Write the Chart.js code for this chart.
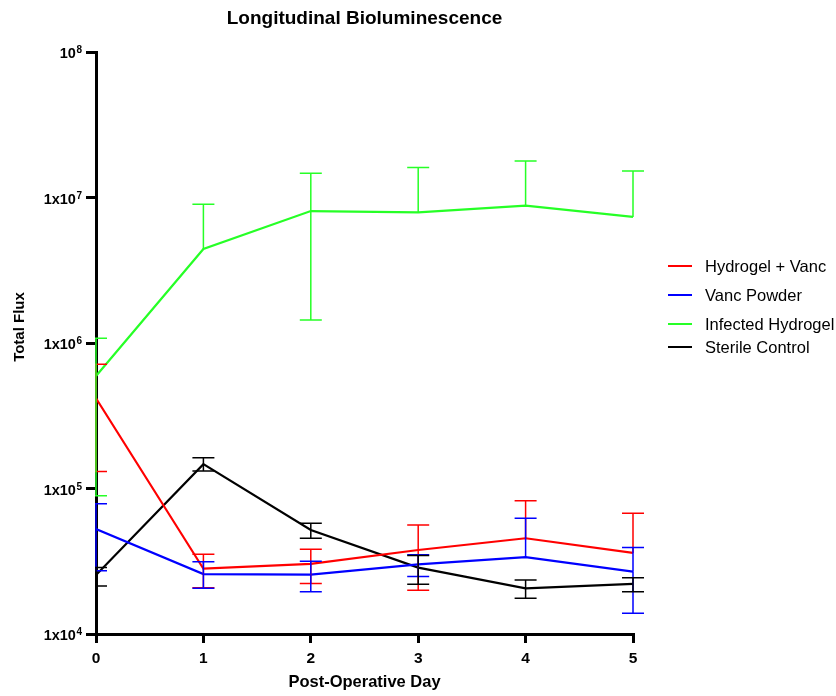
<!DOCTYPE html>
<html><head><meta charset="utf-8">
<script src="https://cdn.jsdelivr.net/npm/chart.js@4.4.1/dist/chart.umd.min.js"></script>
<style>html,body{margin:0;padding:0;background:#fff;} #wrap{width:836px;height:696px;position:relative}</style>
</head><body><div id="wrap"><canvas id="c" width="836" height="696"></canvas></div>
<script>
const days = [0, 1, 2, 3, 4, 5];
const yTickValues = [1e4, 1e5, 1e6, 1e7, 1e8];
const yTickBase = ['1x10', '1x10', '1x10', '1x10', '10'];
const yTickExp = ['4', '5', '6', '7', '8'];
const seriesNames = ['Hydrogel + Vanc', 'Vanc Powder', 'Infected Hydrogel', 'Sterile Control'];
const seriesColors = ['#ff0000', '#0000ff', '#26ff26', '#000000'];

const hydrogelVanc   = [4.17e5, 2.81e4, 3.03e4, 3.78e4, 4.55e4, 3.61e4];
const hydrogelVancHi = [7.15e5, 3.53e4, 3.82e4, 5.61e4, 8.24e4, 6.76e4];
const hydrogelVancLo = [1.31e5, 2.08e4, 2.22e4, 2.00e4, null, null];

const vancPowder   = [5.27e4, 2.58e4, 2.56e4, 3.01e4, 3.37e4, 2.68e4];
const vancPowderHi = [7.87e4, 3.14e4, 3.16e4, 3.51e4, 6.24e4, 3.93e4];
const vancPowderLo = [2.72e4, 2.06e4, 1.95e4, 2.48e4, null, 1.39e4];

const infectedHydrogel   = [5.93e5, 4.43e6, 8.07e6, 7.90e6, 8.80e6, 7.35e6];
const infectedHydrogelHi = [1.08e6, 9.00e6, 1.47e7, 1.61e7, 1.78e7, 1.52e7];
const infectedHydrogelLo = [8.9e4, null, 1.44e6, null, null, null];

const sterileControl   = [2.54e4, 1.47e5, 5.19e4, 2.86e4, 2.06e4, 2.21e4];
const sterileControlHi = [2.86e4, 1.63e5, 5.77e4, 3.47e4, 2.35e4, 2.44e4];
const sterileControlLo = [2.14e4, 1.32e5, 4.55e4, 2.20e4, 1.76e4, 1.95e4];

const values = [hydrogelVanc, vancPowder, infectedHydrogel, sterileControl];
const highs = [hydrogelVancHi, vancPowderHi, infectedHydrogelHi, sterileControlHi];
const lows = [hydrogelVancLo, vancPowderLo, infectedHydrogelLo, sterileControlLo];

const FONT = '"Liberation Sans", Arial, Helvetica, sans-serif';

const datasets = seriesNames.map((name, i) => ({
  label: name,
  data: days.map((d, j) => ({x: d, y: values[i][j]})),
  errHi: highs[i],
  errLo: lows[i],
  borderColor: seriesColors[i],
  backgroundColor: seriesColors[i],
  borderWidth: 2.2,
  pointRadius: 0,
  tension: 0,
  fill: false
}));

const errorBarPlugin = {
  id: 'errorBars',
  afterDatasetsDraw(chart) {
    const {ctx, chartArea} = chart;
    const xs = chart.scales.x, ys = chart.scales.y;
    ctx.save();
    ctx.beginPath();
    ctx.rect(chartArea.left - 1, 0, chart.width, chart.height);
    ctx.clip();
    chart.data.datasets.forEach(ds => {
      ctx.strokeStyle = ds.borderColor;
      ctx.lineWidth = 1.5;
      ds.data.forEach((pt, j) => {
        const px = xs.getPixelForValue(pt.x);
        const py = ys.getPixelForValue(pt.y);
        [ds.errHi[j], ds.errLo[j]].forEach(v => {
          if (v == null) return;
          const ey = ys.getPixelForValue(v);
          ctx.beginPath();
          ctx.moveTo(px, py); ctx.lineTo(px, ey);
          ctx.moveTo(px - 11, ey); ctx.lineTo(px + 11, ey);
          ctx.stroke();
        });
      });
    });
    ctx.restore();
  }
};

const textPlugin = {
  id: 'texts',
  afterDraw(chart) {
    const {ctx, chartArea} = chart;
    const ys = chart.scales.y;
    ctx.save();
    ctx.fillStyle = '#000';
    // y tick labels with superscripts
    yTickValues.forEach((v, i) => {
      const py = ys.getPixelForValue(v);
      const right = chartArea.left - 14;
      ctx.font = 'bold 10px ' + FONT;
      const ew = ctx.measureText(yTickExp[i]).width;
      ctx.textBaseline = 'alphabetic';
      ctx.textAlign = 'left';
      ctx.fillText(yTickExp[i], right - ew, py + 1);
      ctx.font = 'bold 14.5px ' + FONT;
      ctx.textAlign = 'right';
      ctx.fillText(yTickBase[i], right - ew - 0.5, py + 6);
    });
    // axis titles
    ctx.font = 'bold 16.5px ' + FONT;
    ctx.textAlign = 'center';
    ctx.textBaseline = 'middle';
    ctx.fillText('Post-Operative Day', (chartArea.left + chartArea.right) / 2, 682);
    ctx.font = 'bold 15px ' + FONT;
    ctx.save();
    ctx.translate(20, 327);
    ctx.rotate(-Math.PI / 2);
    ctx.fillText('Total Flux', 0, 0);
    ctx.restore();
    // legend
    const legendY = [266, 295, 324, 347];
    ctx.font = '16.5px ' + FONT;
    ctx.textAlign = 'left';
    chart.data.datasets.forEach((ds, i) => {
      ctx.strokeStyle = ds.borderColor;
      ctx.lineWidth = 2;
      ctx.beginPath();
      ctx.moveTo(668, legendY[i]); ctx.lineTo(692, legendY[i]);
      ctx.stroke();
      ctx.fillText(ds.label, 705, legendY[i] + 1);
    });
    ctx.restore();
  }
};

new Chart(document.getElementById('c'), {
  type: 'line',
  data: {datasets},
  plugins: [errorBarPlugin, textPlugin],
  options: {
    responsive: false,
    devicePixelRatio: 1,
    animation: false,
    layout: {padding: {left: 0, top: 0, right: 203, bottom: 0}},
    plugins: {
      legend: {display: false},
      tooltip: {enabled: false},
      title: {
        display: true,
        text: 'Longitudinal Bioluminescence',
        fullSize: false,
        color: '#000',
        font: {family: FONT, size: 19, weight: 'bold'},
        padding: {top: 7, bottom: 22.2}
      }
    },
    scales: {
      x: {
        type: 'linear',
        min: 0, max: 5,
        ticks: {stepSize: 1, color: '#000', font: {family: FONT, size: 15.5, weight: 'bold'}, padding: 6},
        grid: {display: true, drawOnChartArea: false, drawTicks: true, tickLength: 9, lineWidth: 3, color: '#000'},
        border: {display: true, width: 3, color: '#000'},
        afterFit(s) { s.height = 62; }
      },
      y: {
        type: 'logarithmic',
        min: 1e4, max: 1e8,
        afterBuildTicks(s) { s.ticks = yTickValues.map(v => ({value: v, major: true})); },
        ticks: {display: false},
        grid: {display: true, drawOnChartArea: false, drawTicks: true, tickLength: 10, lineWidth: 3, color: '#000'},
        border: {display: true, width: 3, color: '#000'},
        afterFit(s) { s.width = 96; }
      }
    }
  }
});
</script></body></html>
